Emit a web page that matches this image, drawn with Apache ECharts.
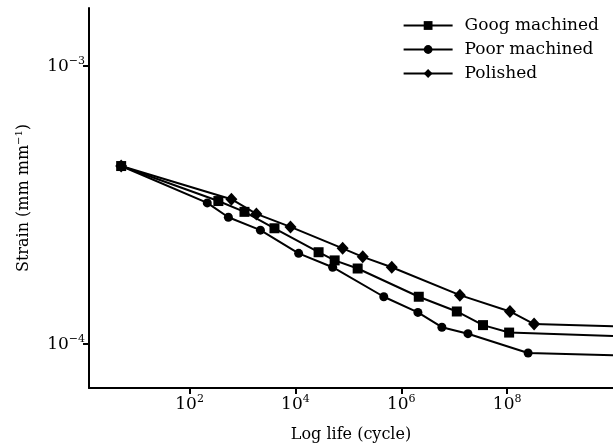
<!DOCTYPE html>
<html>
<head>
<meta charset="utf-8">
<script src="https://cdn.jsdelivr.net/npm/echarts@6/dist/echarts.min.js"></script>
<style>
html, body { margin: 0; padding: 0; background: #fff; }
#chart { width: 613px; height: 448px; }
</style>
</head>
<body>
<div id="chart"></div>
<script>
// names as printed in the legend
var seriesNames = ['Goog machined', 'Poor machined', 'Polished'];

// life (cycles) and strain; last point is the flat tail to the axis end
var goodLife   = [5.1, 350, 1090, 4020, 27400, 55100, 150000, 2.14e6, 1.12e7, 3.5e7, 1.09e8, 1e10];
var goodStrain = [4.37e-4, 3.27e-4, 2.99e-4, 2.61e-4, 2.14e-4, 2.00e-4, 1.87e-4, 1.48e-4, 1.31e-4, 1.17e-4, 1.10e-4, 1.07e-4];

var poorLife   = [5.1, 216, 541, 2180, 11500, 50500, 467000, 2.06e6, 5.85e6, 1.82e7, 2.49e8, 1e10];
var poorStrain = [4.37e-4, 3.22e-4, 2.86e-4, 2.57e-4, 2.12e-4, 1.89e-4, 1.48e-4, 1.30e-4, 1.15e-4, 1.09e-4, 9.29e-5, 9.12e-5];

var polLife    = [5.1, 617, 1830, 8070, 78000, 187000, 661000, 1.28e7, 1.13e8, 3.23e8, 1e10];
var polStrain  = [4.37e-4, 3.32e-4, 2.94e-4, 2.64e-4, 2.21e-4, 2.06e-4, 1.89e-4, 1.50e-4, 1.31e-4, 1.18e-4, 1.16e-4];

var xTicks = [1e2, 1e4, 1e6, 1e8];
var yTicks = [1e-4, 1e-3];

var FONT = 'DejaVu Serif';

function pairs(xs, ys) {
    var out = [];
    for (var i = 0; i < xs.length; i++) {
        var item = { value: [xs[i], ys[i]] };
        if (i === xs.length - 1) item.symbol = 'none';
        out.push(item);
    }
    return out;
}

function powLabel(v) {
    var e = Math.round(Math.log(v) / Math.LN10);
    var sup = e < 0 ? '\u2212' + (-e) : '' + e;
    return '{b|10}{s|' + sup + '}';
}

var labelRich = {
    b: { fontFamily: FONT, fontSize: 17, color: '#000' },
    s: { fontFamily: FONT, fontSize: 11, color: '#000', padding: [0, 0, 10, 0] }
};

function makeSeries(name, life, strain, symbol, size) {
    return {
        name: name,
        type: 'line',
        data: pairs(life, strain),
        symbol: symbol,
        symbolSize: size,
        showAllSymbol: true,
        lineStyle: { color: '#000', width: 2 },
        itemStyle: { color: '#000' }
    };
}

var chart = echarts.init(document.getElementById('chart'));
var option = {
    backgroundColor: '#fff',
    animation: false,
    grid: { left: 89, top: 8, right: 0, bottom: 60 },
    legend: {
        orient: 'vertical',
        right: 9,
        top: 12,
        itemWidth: 49,
        itemHeight: 11,
        itemGap: 7,
        textStyle: { fontFamily: FONT, fontSize: 17, color: '#000', padding: [0, 0, 0, 7] },
        data: seriesNames
    },
    xAxis: {
        type: 'log',
        min: Math.pow(10, 0.1),
        max: 1e10,
        name: 'Log life (cycle)',
        nameLocation: 'middle',
        nameGap: 39,
        nameTextStyle: { fontFamily: FONT, fontSize: 16, color: '#000' },
        axisLine: { lineStyle: { color: '#000', width: 2 } },
        axisTick: { length: 6, lineStyle: { color: '#000', width: 2 }, customValues: xTicks },
        axisLabel: { margin: 6, customValues: xTicks, formatter: powLabel, rich: labelRich },
        splitLine: { show: false },
        minorTick: { show: false }
    },
    yAxis: {
        type: 'log',
        min: Math.pow(10, -4.158),
        max: Math.pow(10, -2.791),
        name: '{n|Strain (mm mm}{s|\u22121}{n|)}',
        nameLocation: 'middle',
        nameGap: 56,
        nameTextStyle: {
            rich: {
                n: { fontFamily: FONT, fontSize: 16, color: '#000' },
                s: { fontFamily: FONT, fontSize: 10, color: '#000', padding: [0, 0, 9, 0] }
            }
        },
        axisLine: { lineStyle: { color: '#000', width: 2 } },
        axisTick: { length: 6, lineStyle: { color: '#000', width: 2 }, customValues: yTicks },
        axisLabel: { margin: 4, customValues: yTicks, formatter: powLabel, rich: labelRich },
        splitLine: { show: false },
        minorTick: { show: false }
    },
    series: [
        makeSeries(seriesNames[2], polLife, polStrain, 'diamond', [12, 13]),
        makeSeries(seriesNames[1], poorLife, poorStrain, 'circle', 9),
        makeSeries(seriesNames[0], goodLife, goodStrain, 'rect', 10)
    ]
};
chart.setOption(option);
</script>
</body>
</html>
